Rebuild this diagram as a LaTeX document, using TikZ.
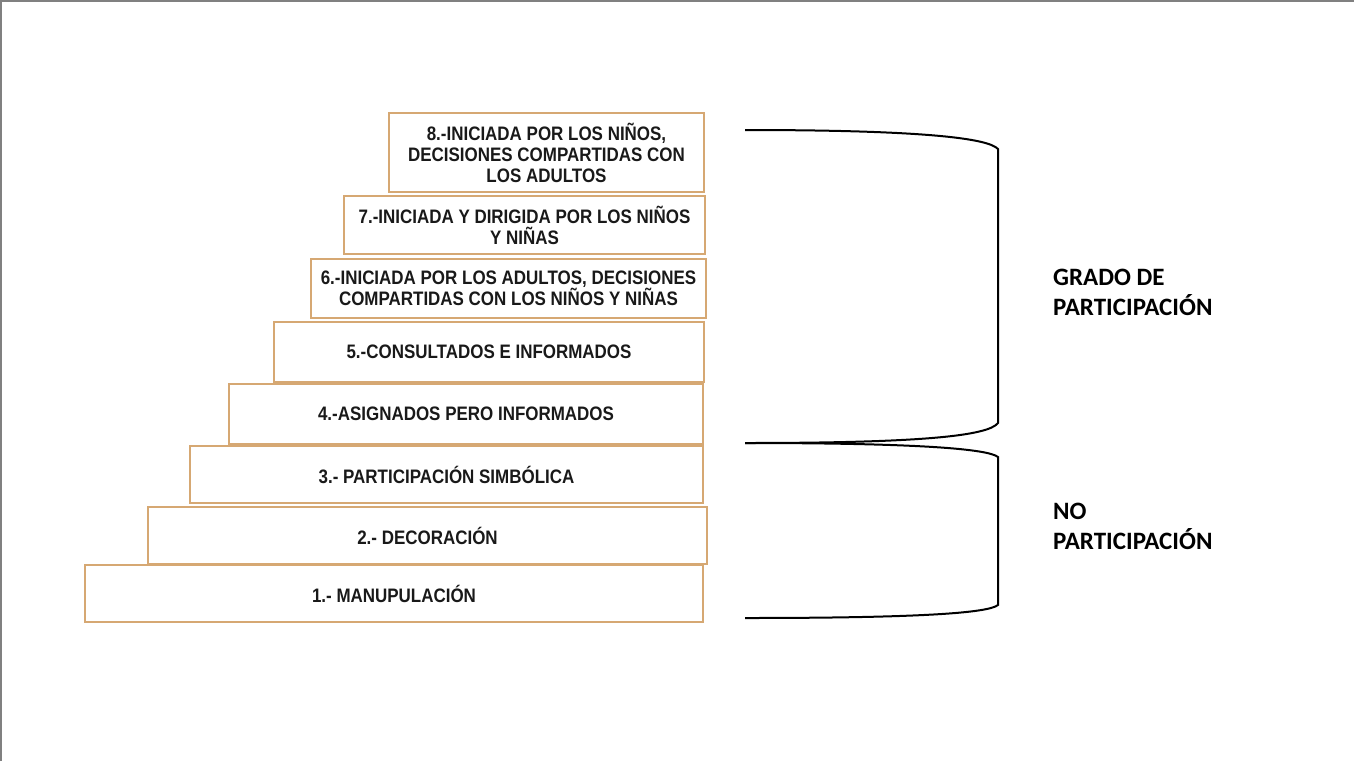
\documentclass[tikz,border=0pt]{standalone}
\usepackage{fontspec}
\usepackage{xcolor}
\usepackage{tikz}
\setmainfont{Liberation Sans}
\newfontfamily\narrowsans[FakeStretch=0.87]{Liberation Sans}
\newfontfamily\calib{Carlito}
\usetikzlibrary{positioning}
\definecolor{boxcolor}{HTML}{D6A873}
\definecolor{framecolor}{HTML}{808080}

\begin{document}
\begin{tikzpicture}[x=1pt, y=-1pt,
  stepbox/.style={draw=boxcolor, line width=1.4pt, inner sep=2pt, align=center,
               font=\narrowsans\fontsize{19.5}{21}\selectfont\bfseries, text=black!90},
  grp/.style={anchor=west, inner sep=0pt, align=left,
               font=\calib\bfseries\fontsize{25}{30}\selectfont},
  brace/.style={line width=2pt, black},
]
  \useasboundingbox (0,0) rectangle (1354,761);
  \draw[framecolor, line width=2.5pt] (1.2,761) -- (1.2,1.2) -- (1354,1.2);

  % ladder, bottom to top
  \node[stepbox, minimum width=618pt, minimum height=57pt] (b1) at (394,593.5)
        {1.- MANUPULACIÓN};
  \node[stepbox, minimum width=559pt, minimum height=57pt] (b2) at (427.5,535.5)
        {2.- DECORACIÓN};
  \node[stepbox, minimum width=513pt, minimum height=57pt] (b3) at (446.5,474.5)
        {3.- PARTICIPACIÓN SIMBÓLICA};
  \node[stepbox, minimum width=474pt, minimum height=60pt] (b4) at (466,414)
        {4.-ASIGNADOS PERO INFORMADOS};
  \node[stepbox, minimum width=430pt, minimum height=60pt] (b5) at (489,352)
        {5.-CONSULTADOS E INFORMADOS};
  \node[stepbox, minimum width=395pt, minimum height=59pt] (b6) at (508.5,288.5)
        {6.-INICIADA POR LOS ADULTOS, DECISIONES\\COMPARTIDAS CON LOS NIÑOS Y NIÑAS};
  \node[stepbox, minimum width=361pt, minimum height=58pt] (b7) at (524.5,225)
        {7.-INICIADA Y DIRIGIDA POR LOS NIÑOS\\Y NIÑAS};
  \node[stepbox, minimum width=315pt, minimum height=79pt] (b8) at (546.5,152.5)
        {8.-INICIADA POR LOS NIÑOS,\\DECISIONES COMPARTIDAS CON\\LOS ADULTOS};

  % brackets
  \coordinate (gtop) at (745,130);
  \coordinate (gmid) at (745,443);
  \coordinate (gbot) at (745,618);
  \draw[brace] (gtop) .. controls (920,130) and (988,138) .. (998,149)
        -- (998,423) .. controls (988,436) and (920,443) .. (gmid);
  \draw[brace] (gmid) .. controls (920,443) and (988,449) .. (998,457)
        -- (998,605) .. controls (988,613) and (920,618) .. (gbot);

  % labels
  \node[grp] (lgrado) at (1053,292) {GRADO DE\\PARTICIPACIÓN};
  \node[grp] (lno) at (1053,526) {NO\\PARTICIPACIÓN};

\end{tikzpicture}
\end{document}
